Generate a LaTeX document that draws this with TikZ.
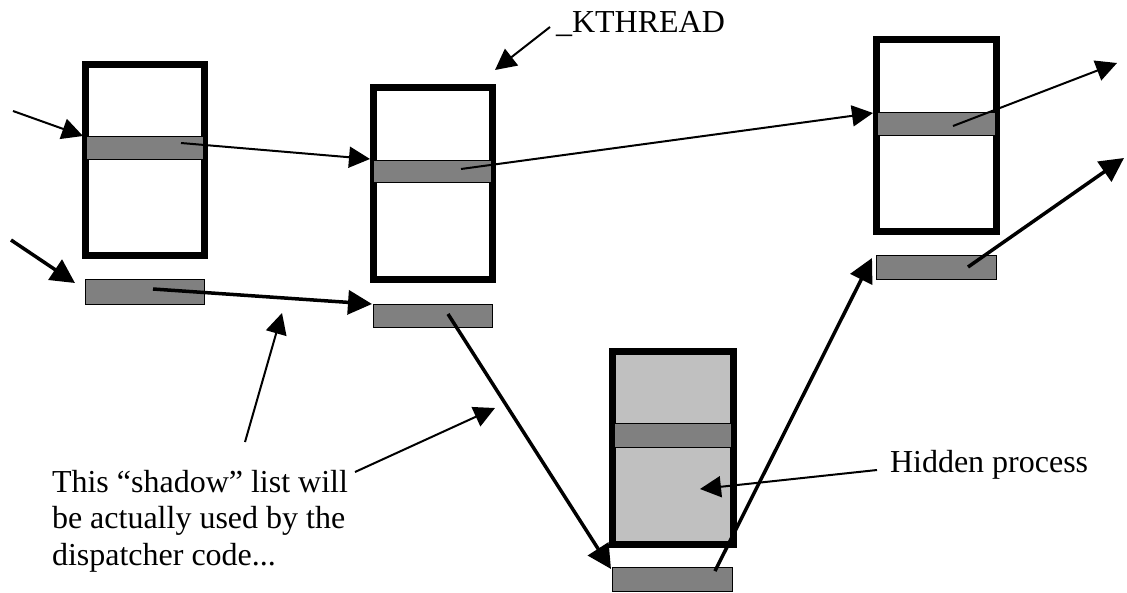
\documentclass[tikz,border=0pt]{standalone}
\usepackage{fontspec}
\setmainfont{Liberation Serif}
\usetikzlibrary{arrows.meta}
\definecolor{bargray}{HTML}{808080}
\definecolor{hidgray}{HTML}{C0C0C0}
\begin{document}
\begin{tikzpicture}[x=1pt,y=-1pt,
  frame/.style={draw=black, line width=7pt, inner sep=0pt, outer sep=0pt},
  bar/.style={draw=black, fill=bargray, line width=1pt, inner sep=0pt, outer sep=0pt},
  thinarrow/.style={line width=2pt, -{Triangle[length=21pt,width=21pt]}},
  thickarrow/.style={line width=3.5pt, -{Triangle[length=24pt,width=24pt]}},
  lbl/.style={font=\fontsize{32}{36.5}\selectfont, inner sep=0pt, outer sep=0pt}]
\useasboundingbox (0,0) rectangle (1127,592);

% thread frames
\node[frame, minimum width=119pt, minimum height=191pt] (boxA) at (145,160) {};
\node[frame, minimum width=119pt, minimum height=192pt] (boxB) at (433,183.5) {};
\node[frame, minimum width=120pt, minimum height=192pt] (boxC) at (936.5,135.5) {};
\node[frame, fill=hidgray, minimum width=121pt, minimum height=193pt] (boxD) at (673,448) {};

% list entries inside frames
\node[bar, minimum width=117pt, minimum height=23pt] (barA) at (145,148) {};
\node[bar, minimum width=118pt, minimum height=22pt] (barB) at (432.5,171.5) {};
\node[bar, minimum width=118pt, minimum height=23pt] (barC) at (936.5,124) {};
\node[bar, minimum width=117pt, minimum height=24pt] (barD) at (673,435.5) {};

% shadow entries
\node[bar, minimum width=119pt, minimum height=25pt] (shA) at (145,292) {};
\node[bar, minimum width=119pt, minimum height=23pt] (shB) at (433,316) {};
\node[bar, minimum width=120pt, minimum height=24pt] (shC) at (936.5,267.5) {};
\node[bar, minimum width=120pt, minimum height=24pt] (shD) at (672.5,579.5) {};

% labels
\node[lbl, anchor=base west] (kthread) at (556,32) {\_KTHREAD};
\node[lbl, anchor=base west] (hidden) at (890,472) {Hidden process};
\node[lbl, anchor=north west, align=left] (shadowtxt) at (52,470)
  {This “shadow” list will\\be actually used by the\\dispatcher code...};

% connector end points
\coordinate (inA) at (13,111);
\coordinate (inAtip) at (83,136);
\coordinate (sA) at (181,143);
\coordinate (tB) at (370,159);
\coordinate (sB) at (461,169);
\coordinate (tC) at (873,113);
\coordinate (sC) at (953,126);
\coordinate (outC) at (1117,63);
\coordinate (inS) at (11,240);
\coordinate (inStip) at (75,283);
\coordinate (ssA) at (153,289);
\coordinate (tsB) at (372,304);
\coordinate (ssB) at (448,314);
\coordinate (tsD) at (611,569);
\coordinate (ssD) at (715,571);
\coordinate (tsC) at (872,258);
\coordinate (ssC) at (968,267);
\coordinate (outS) at (1124,158);
\coordinate (kfrom) at (550,27);
\coordinate (kto) at (495,70);
\coordinate (l1from) at (245,442);
\coordinate (l1to) at (282,313);
\coordinate (l2from) at (355,472);
\coordinate (l2to) at (495,408);
\coordinate (hfrom) at (877,470);
\coordinate (hto) at (700,489);

% real list
\draw[thinarrow] (inA) -- (inAtip);
\draw[thinarrow] (sA) -- (tB);
\draw[thinarrow] (sB) -- (tC);
\draw[thinarrow] (sC) -- (outC);

% shadow list
\draw[thickarrow] (inS) -- (inStip);
\draw[thickarrow] (ssA) -- (tsB);
\draw[thickarrow] (ssB) -- (tsD);
\draw[thickarrow] (ssD) -- (tsC);
\draw[thickarrow] (ssC) -- (outS);

% label pointers
\draw[thinarrow] (kfrom) -- (kto);
\draw[thinarrow] (l1from) -- (l1to);
\draw[thinarrow] (l2from) -- (l2to);
\draw[thinarrow] (hfrom) -- (hto);
\end{tikzpicture}
\end{document}
